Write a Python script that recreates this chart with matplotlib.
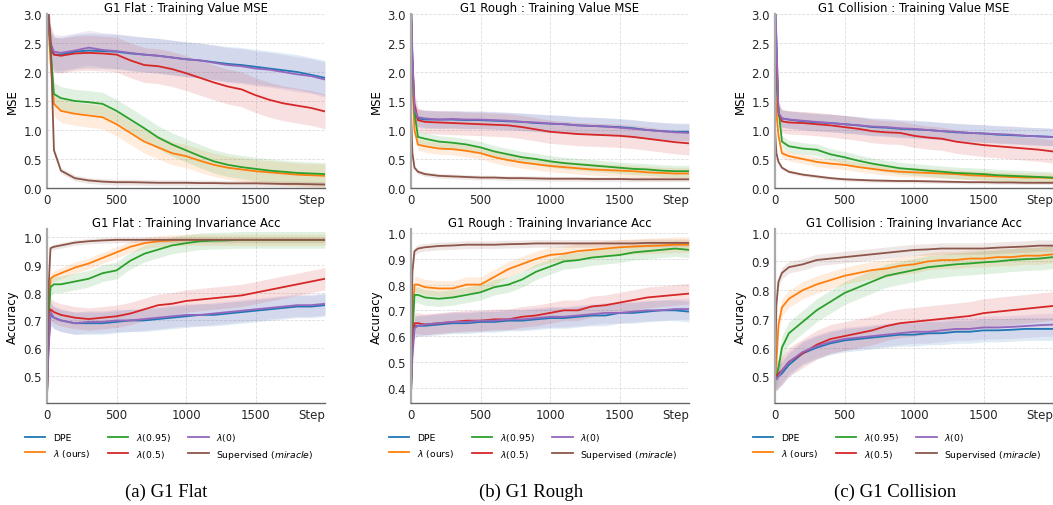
"""G1 三种地形下各方法的训练 MSE 与不变性准确率曲线。"""

import matplotlib.pyplot as plt
import numpy as np

OUTPUT_PATH = "out.png"

STEPS = [0, 10, 25, 50, 100, 200, 300, 400, 500, 600, 700, 800, 900, 1000,
         1100, 1200, 1300, 1400, 1500, 1600, 1700, 1800, 1900, 2000]

METHODS = ["DPE", r"$\lambda$ (ours)", r"$\lambda$(0.95)", r"$\lambda$(0.5)",
           r"$\lambda$(0)", r"Supervised ($\it{miracle}$)"]
COLORS = ["#1f77b4", "#ff7f0e", "#2ca02c", "#d62728", "#9467bd", "#8c564b"]

# 每行对应 METHODS 中的一个方法
FLAT_MSE = [
    [3.3, 3.0, 2.4, 2.3, 2.3, 2.35, 2.37, 2.36, 2.35, 2.32, 2.3, 2.28, 2.25, 2.22, 2.2, 2.17, 2.14, 2.12, 2.09, 2.06, 2.03, 2.0, 1.95, 1.9],
    [3.3, 2.8, 2.2, 1.45, 1.33, 1.28, 1.25, 1.22, 1.1, 0.95, 0.8, 0.7, 0.6, 0.55, 0.47, 0.4, 0.35, 0.32, 0.29, 0.27, 0.25, 0.23, 0.22, 0.21],
    [3.3, 2.9, 2.4, 1.62, 1.55, 1.5, 1.48, 1.45, 1.33, 1.18, 1.03, 0.87, 0.75, 0.65, 0.55, 0.46, 0.4, 0.36, 0.33, 0.3, 0.28, 0.26, 0.25, 0.24],
    [3.3, 2.9, 2.5, 2.3, 2.28, 2.32, 2.33, 2.32, 2.3, 2.2, 2.12, 2.1, 2.05, 1.98, 1.9, 1.82, 1.75, 1.7, 1.6, 1.52, 1.46, 1.42, 1.38, 1.32],
    [3.3, 3.0, 2.5, 2.35, 2.33, 2.37, 2.42, 2.38, 2.36, 2.33, 2.3, 2.28, 2.25, 2.22, 2.2, 2.16, 2.12, 2.1, 2.06, 2.04, 2.0, 1.96, 1.93, 1.87],
    [3.0, 3.0, 2.6, 0.65, 0.3, 0.17, 0.13, 0.11, 0.1, 0.1, 0.095, 0.09, 0.09, 0.09, 0.085, 0.085, 0.08, 0.08, 0.08, 0.075, 0.07, 0.07, 0.065, 0.06],
]
FLAT_ACC = [
    [0.43, 0.6, 0.72, 0.71, 0.70, 0.69, 0.69, 0.69, 0.695, 0.70, 0.70, 0.705, 0.71, 0.715, 0.72, 0.72, 0.725, 0.73, 0.735, 0.74, 0.745, 0.75, 0.75, 0.755],
    [0.43, 0.7, 0.85, 0.86, 0.87, 0.89, 0.905, 0.925, 0.945, 0.965, 0.978, 0.985, 0.988, 0.99, 0.99, 0.99, 0.99, 0.99, 0.99, 0.99, 0.99, 0.99, 0.99, 0.99],
    [0.43, 0.68, 0.82, 0.83, 0.83, 0.84, 0.85, 0.87, 0.88, 0.915, 0.94, 0.955, 0.97, 0.978, 0.985, 0.987, 0.988, 0.99, 0.99, 0.99, 0.99, 0.99, 0.99, 0.99],
    [0.43, 0.62, 0.74, 0.73, 0.72, 0.71, 0.705, 0.71, 0.715, 0.725, 0.74, 0.755, 0.76, 0.77, 0.775, 0.78, 0.785, 0.79, 0.80, 0.81, 0.82, 0.83, 0.84, 0.85],
    [0.43, 0.58, 0.73, 0.71, 0.70, 0.69, 0.695, 0.695, 0.70, 0.70, 0.705, 0.71, 0.715, 0.72, 0.72, 0.725, 0.73, 0.735, 0.74, 0.745, 0.75, 0.755, 0.755, 0.76],
    [0.43, 0.8, 0.96, 0.965, 0.97, 0.98, 0.985, 0.988, 0.99, 0.99, 0.99, 0.99, 0.99, 0.99, 0.99, 0.99, 0.99, 0.99, 0.99, 0.99, 0.99, 0.99, 0.99, 0.99],
]
ROUGH_MSE = [
    [3.3, 2.2, 1.3, 1.2, 1.18, 1.18, 1.18, 1.17, 1.17, 1.16, 1.15, 1.14, 1.12, 1.11, 1.1, 1.08, 1.07, 1.06, 1.05, 1.03, 1.0, 0.98, 0.97, 0.97],
    [3.0, 1.8, 1.0, 0.75, 0.72, 0.68, 0.67, 0.64, 0.6, 0.53, 0.48, 0.44, 0.41, 0.38, 0.36, 0.34, 0.32, 0.31, 0.3, 0.29, 0.27, 0.26, 0.25, 0.25],
    [3.0, 2.0, 1.3, 0.88, 0.85, 0.8, 0.78, 0.75, 0.7, 0.63, 0.58, 0.53, 0.5, 0.46, 0.43, 0.41, 0.39, 0.37, 0.35, 0.33, 0.32, 0.3, 0.29, 0.29],
    [3.0, 2.2, 1.45, 1.17, 1.14, 1.13, 1.12, 1.11, 1.1, 1.09, 1.08, 1.05, 1.01, 0.97, 0.95, 0.93, 0.92, 0.91, 0.9, 0.88, 0.85, 0.82, 0.79, 0.77],
    [3.3, 2.3, 1.35, 1.22, 1.2, 1.18, 1.19, 1.18, 1.18, 1.17, 1.16, 1.14, 1.13, 1.11, 1.1, 1.08, 1.07, 1.06, 1.04, 1.02, 1.0, 0.98, 0.96, 0.95],
    [1.3, 0.6, 0.35, 0.28, 0.24, 0.21, 0.2, 0.19, 0.18, 0.18, 0.17, 0.17, 0.165, 0.16, 0.16, 0.16, 0.155, 0.155, 0.155, 0.15, 0.15, 0.15, 0.15, 0.15],
]
ROUGH_ACC = [
    [0.38, 0.55, 0.64, 0.64, 0.64, 0.645, 0.65, 0.65, 0.655, 0.655, 0.66, 0.66, 0.665, 0.67, 0.67, 0.675, 0.68, 0.68, 0.69, 0.69, 0.695, 0.70, 0.70, 0.695],
    [0.37, 0.65, 0.8, 0.8, 0.79, 0.785, 0.785, 0.8, 0.8, 0.83, 0.86, 0.88, 0.9, 0.915, 0.92, 0.93, 0.935, 0.94, 0.945, 0.948, 0.95, 0.952, 0.955, 0.955],
    [0.37, 0.6, 0.76, 0.76, 0.75, 0.745, 0.75, 0.76, 0.77, 0.79, 0.80, 0.82, 0.85, 0.87, 0.89, 0.895, 0.905, 0.91, 0.915, 0.925, 0.93, 0.935, 0.94, 0.935],
    [0.40, 0.58, 0.65, 0.65, 0.645, 0.65, 0.655, 0.66, 0.66, 0.665, 0.665, 0.675, 0.68, 0.69, 0.70, 0.70, 0.715, 0.72, 0.73, 0.74, 0.75, 0.755, 0.76, 0.765],
    [0.40, 0.52, 0.63, 0.64, 0.645, 0.65, 0.655, 0.655, 0.66, 0.66, 0.665, 0.665, 0.67, 0.675, 0.675, 0.68, 0.685, 0.69, 0.69, 0.695, 0.70, 0.70, 0.705, 0.705],
    [0.35, 0.85, 0.93, 0.94, 0.945, 0.95, 0.952, 0.955, 0.955, 0.955, 0.957, 0.958, 0.96, 0.96, 0.96, 0.96, 0.96, 0.96, 0.96, 0.96, 0.962, 0.962, 0.962, 0.962],
]
COLL_MSE = [
    [3.3, 2.5, 1.25, 1.2, 1.18, 1.15, 1.13, 1.12, 1.1, 1.08, 1.05, 1.04, 1.02, 1.01, 1.0, 0.98, 0.96, 0.95, 0.94, 0.92, 0.91, 0.9, 0.89, 0.88],
    [2.0, 1.3, 0.9, 0.6, 0.55, 0.5, 0.45, 0.42, 0.4, 0.36, 0.33, 0.3, 0.28, 0.27, 0.26, 0.25, 0.24, 0.22, 0.21, 0.2, 0.19, 0.18, 0.18, 0.17],
    [2.5, 1.8, 1.35, 0.8, 0.72, 0.68, 0.66, 0.58, 0.53, 0.47, 0.42, 0.38, 0.34, 0.32, 0.3, 0.28, 0.26, 0.25, 0.24, 0.22, 0.21, 0.2, 0.19, 0.18],
    [3.0, 2.3, 1.3, 1.15, 1.13, 1.12, 1.1, 1.08, 1.05, 1.02, 0.98, 0.96, 0.95, 0.9, 0.87, 0.85, 0.8, 0.77, 0.74, 0.72, 0.7, 0.68, 0.66, 0.63],
    [3.3, 2.6, 1.3, 1.2, 1.18, 1.16, 1.14, 1.12, 1.1, 1.08, 1.06, 1.05, 1.03, 1.02, 1.0, 0.98, 0.97, 0.95, 0.94, 0.93, 0.92, 0.9, 0.89, 0.88],
    [1.0, 0.6, 0.45, 0.35, 0.28, 0.23, 0.2, 0.17, 0.15, 0.14, 0.13, 0.125, 0.12, 0.12, 0.115, 0.11, 0.105, 0.1, 0.1, 0.095, 0.095, 0.09, 0.09, 0.09],
]
COLL_ACC = [
    [0.5, 0.49, 0.5, 0.51, 0.54, 0.58, 0.6, 0.615, 0.625, 0.63, 0.635, 0.64, 0.645, 0.645, 0.65, 0.65, 0.655, 0.655, 0.66, 0.66, 0.662, 0.665, 0.665, 0.665],
    [0.5, 0.55, 0.68, 0.74, 0.77, 0.8, 0.82, 0.835, 0.85, 0.86, 0.87, 0.875, 0.885, 0.89, 0.9, 0.905, 0.905, 0.91, 0.91, 0.915, 0.915, 0.92, 0.92, 0.925],
    [0.5, 0.5, 0.53, 0.6, 0.65, 0.69, 0.73, 0.76, 0.79, 0.81, 0.83, 0.85, 0.86, 0.87, 0.88, 0.885, 0.89, 0.893, 0.897, 0.9, 0.905, 0.908, 0.91, 0.915],
    [0.5, 0.5, 0.51, 0.52, 0.55, 0.58, 0.61, 0.63, 0.64, 0.65, 0.66, 0.675, 0.685, 0.69, 0.695, 0.70, 0.705, 0.71, 0.72, 0.725, 0.73, 0.735, 0.74, 0.745],
    [0.5, 0.49, 0.5, 0.52, 0.55, 0.585, 0.605, 0.62, 0.63, 0.635, 0.64, 0.645, 0.65, 0.655, 0.655, 0.66, 0.665, 0.665, 0.67, 0.67, 0.672, 0.675, 0.678, 0.68],
    [0.5, 0.75, 0.83, 0.86, 0.88, 0.89, 0.905, 0.91, 0.915, 0.92, 0.925, 0.93, 0.935, 0.94, 0.942, 0.945, 0.945, 0.945, 0.945, 0.948, 0.95, 0.952, 0.955, 0.955],
]

# 原始曲线的抖动幅度（半宽），按方法顺序
FLAT_MSE_SPREAD = [0.3, 0.2, 0.2, 0.3, 0.3, 0.05]
FLAT_ACC_SPREAD = [0.04, 0.02, 0.03, 0.04, 0.04, 0.01]
ROUGH_MSE_SPREAD = [0.15, 0.1, 0.1, 0.2, 0.15, 0.04]
ROUGH_ACC_SPREAD = [0.04, 0.03, 0.03, 0.04, 0.04, 0.015]
COLL_MSE_SPREAD = [0.15, 0.08, 0.1, 0.2, 0.15, 0.03]
COLL_ACC_SPREAD = [0.04, 0.03, 0.04, 0.05, 0.04, 0.02]

TERRAINS = ["G1 Flat", "G1 Rough", "G1 Collision"]
CAPTIONS = ["(a) G1 Flat", "(b) G1 Rough", "(c) G1 Collision"]
X_TICKS = [0, 500, 1000, 1500, 2000]
X_TICK_LABELS = ["0", "500", "1000", "1500", "Step"]
MSE_TICKS = [0.0, 0.5, 1.0, 1.5, 2.0, 2.5, 3.0]
ACC_TICKS = [[0.5, 0.6, 0.7, 0.8, 0.9, 1.0],
             [0.4, 0.5, 0.6, 0.7, 0.8, 0.9, 1.0],
             [0.5, 0.6, 0.7, 0.8, 0.9, 1.0]]
ACC_LIMITS = [(0.403, 1.029), (0.34, 1.016), (0.407, 1.013)]

W, H = 1053, 506


def style_axis(axis, yticks):
    axis.set_xlim(0, 2000)
    axis.set_xticks(X_TICKS, X_TICK_LABELS)
    axis.get_xticklabels()[-1].set_horizontalalignment("right")
    axis.set_yticks(yticks, [f"{v:.1f}" for v in yticks])
    axis.tick_params(length=0, pad=3.5, labelsize=8.5, colors="#262626")
    axis.grid(True, linestyle="--", color="#dddddd", linewidth=0.6)
    axis.set_axisbelow(True)
    for side in ("top", "right"):
        axis.spines[side].set_visible(False)
    axis.spines["left"].set_color("#aaaaaa")
    axis.spines["left"].set_linewidth(1.6)
    axis.spines["bottom"].set_color("#666666")
    axis.spines["bottom"].set_linewidth(1.0)


def draw_curves(axis, series, spreads):
    steps = np.array(STEPS)
    for values, spread, color in zip(series, spreads, COLORS):
        values = np.array(values)
        axis.fill_between(steps, values - spread, values + spread,
                          color=color, alpha=0.14, linewidth=0)
    lines = []
    for values, color, label in zip(series, COLORS, METHODS):
        (line,) = axis.plot(steps, values, color=color, linewidth=1.3, label=label)
        lines.append(line)
    return lines


def main():
    figure = plt.figure(figsize=(W / 100, H / 100), dpi=100, facecolor="white")
    mse_data = [FLAT_MSE, ROUGH_MSE, COLL_MSE]
    acc_data = [FLAT_ACC, ROUGH_ACC, COLL_ACC]
    mse_spread = [FLAT_MSE_SPREAD, ROUGH_MSE_SPREAD, COLL_MSE_SPREAD]
    acc_spread = [FLAT_ACC_SPREAD, ROUGH_ACC_SPREAD, COLL_ACC_SPREAD]
    lefts = [47, 411, 775]
    legend_lefts = [25, 389, 753]
    caption_centers = [166, 531, 895]

    for col in range(3):
        left = lefts[col] / W
        width = 278 / W
        top_axis = figure.add_axes([left, 1 - 189 / H, width, 174 / H])
        bottom_axis = figure.add_axes([left, 1 - 404 / H, width, 174 / H])

        draw_curves(top_axis, mse_data[col], mse_spread[col])
        style_axis(top_axis, MSE_TICKS)
        top_axis.set_ylim(0, 3.0)
        top_axis.set_ylabel("MSE", fontsize=8.5, labelpad=3)
        top_axis.set_title(f"{TERRAINS[col]} : Training Value MSE", fontsize=8.4, pad=2.5)

        lines = draw_curves(bottom_axis, acc_data[col], acc_spread[col])
        style_axis(bottom_axis, ACC_TICKS[col])
        bottom_axis.set_ylim(*ACC_LIMITS[col])
        bottom_axis.set_ylabel("Accuracy", fontsize=8.5, labelpad=3)
        bottom_axis.set_title(f"{TERRAINS[col]} : Training Invariance Acc", fontsize=8.4, pad=2.5)

        figure.legend(
            lines, METHODS, loc="upper left",
            bbox_to_anchor=(legend_lefts[col] / W, 1 - 432 / H),
            ncol=3, frameon=False, fontsize=6.7, handlelength=2.2,
            handletextpad=0.8, columnspacing=1.9, labelspacing=0.5,
            borderpad=0, borderaxespad=0,
        )
        figure.text(caption_centers[col] / W, 1 - 492 / H, CAPTIONS[col],
                    ha="center", va="center", fontsize=13.5,
                    family="Liberation Serif")

    figure.savefig(OUTPUT_PATH, dpi=100, facecolor="white")
    plt.close(figure)


if __name__ == "__main__":
    main()
